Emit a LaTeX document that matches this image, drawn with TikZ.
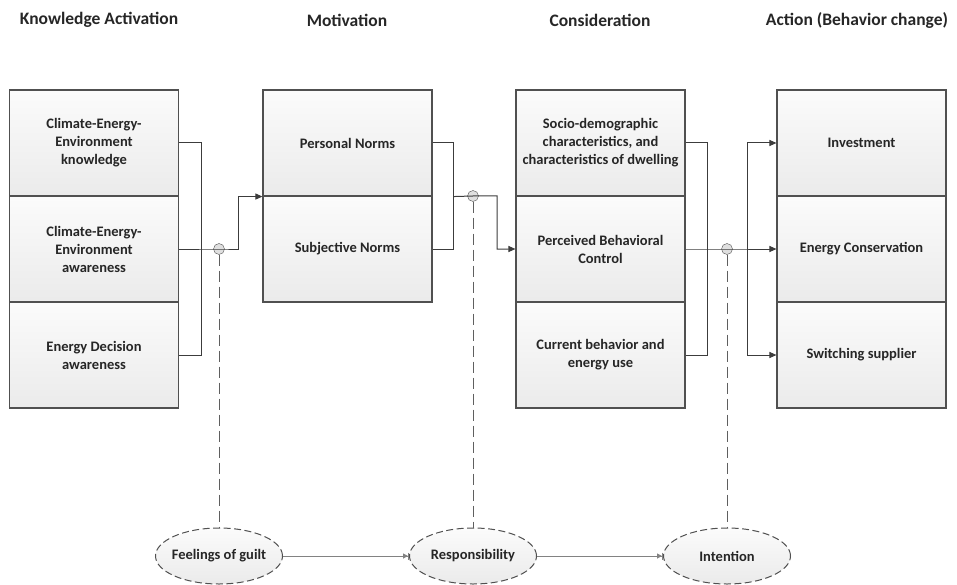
\documentclass[tikz,border=0pt]{standalone}
\usepackage{fontspec}
\setmainfont{Carlito}
\usetikzlibrary{arrows.meta, positioning, calc, shapes.geometric}

\begin{document}
\begin{tikzpicture}[x=1pt,y=-1pt,>={Triangle[length=7pt,width=6pt]},
    title/.style={font=\fontsize{17.5}{20}\selectfont\bfseries, text=black!85},
    box/.style={rectangle, draw=boxline, line width=1.1pt, top color=gray!3, bottom color=gray!16,
        minimum width=169pt, minimum height=106pt, inner sep=2pt, align=center,
        font=\fontsize{14.5}{18}\selectfont\bfseries, text=black!85},
    oval/.style={ellipse, draw=boxline, line width=1pt, dash pattern=on 7pt off 3.5pt,
        top color=gray!3, bottom color=gray!16, minimum width=127pt, minimum height=56pt,
        inner sep=0pt, font=\fontsize{14.5}{18}\selectfont\bfseries, text=black!85},
    knot/.style={circle, draw=boxline, fill=gray!25, minimum size=11pt, inner sep=0pt},
    link/.style={draw=linkgray, line width=1pt},
    hint/.style={draw=hintgray, line width=1pt, dash pattern=on 11pt off 5pt},
    cue/.style={draw=cuegray, line width=1pt, -{Triangle[length=5pt,width=5pt]Bar[width=7pt]}}]

% Colors
\definecolor{boxline}{RGB}{80,80,80}
\definecolor{linkgray}{RGB}{60,60,60}
\definecolor{hintgray}{RGB}{95,95,95}
\definecolor{cuegray}{RGB}{130,130,130}

\useasboundingbox (0,0) rectangle (957,585);

% Titles
\node[title] (tK) at (99,20) {Knowledge Activation};
\node[title] (tM) at (347,20) {Motivation};
\node[title] (tC) at (600,20) {Consideration};
\node[title] (tA) at (857,20) {Action (Behavior change)};

% Knowledge activation
\foreach \i/\y/\txt in {1/143/{Climate-Energy-\\Environment\\knowledge},
                        2/249/{Climate-Energy-\\Environment\\awareness},
                        3/355/{Energy Decision\\awareness}} {
    \node[box] (K\i) at (94,\y) {\txt};
}

% Motivation
\foreach \i/\y/\txt in {1/143/{Personal Norms}, 2/249/{Subjective Norms}} {
    \node[box] (M\i) at (347.5,\y) {\txt};
}

% Consideration
\foreach \i/\y/\txt in {1/143/{Socio-demographic\\characteristics, and\\characteristics of dwelling},
                        2/249/{Perceived Behavioral\\Control},
                        3/355/{Current behavior and\\energy use}} {
    \node[box] (C\i) at (600.5,\y) {\txt};
}

% Action
\foreach \i/\y/\txt in {1/143/{Investment}, 2/249/{Energy Conservation}, 3/355/{Switching supplier}} {
    \node[box] (A\i) at (861.5,\y) {\txt};
}

% Moderators
\node[knot] (g1) at (219,249) {};
\node[knot] (g2) at (473,196) {};
\node[knot] (g3) at (727,249) {};

\node[oval] (guilt) at (219,556) {\makebox[0pt]{Feelings of guilt}};
\node[oval] (resp) at (473,556) {\makebox[0pt]{Responsibility}};
\node[oval] (intent) at (727,556) {\makebox[0pt]{Intention}};

% Knowledge -> Motivation
\draw[link] (K1.east) -- ++(22,0) |- (K3.east);
\draw[link,->] (K2.east) -- (g1.center) -- ++(19,0) |- (M1.south west);

% Motivation -> Consideration
\draw[link] (M1.east) -- ++(21,0) |- (M2.east);
\draw[link,->] (M1.south east) ++(21,0) -- (g2.center) -- ++(24,0) |- (C2.west);

% Consideration -> Action
\draw[link] (C1.east) -- ++(22,0) |- (C3.east);
\draw[link,->] (C2.east) -- (g3.center) -- (A2.west);
\coordinate (split) at (747,249);
\draw[link,->] (split) |- (A1.west);
\draw[link,->] (split) |- (A3.west);

% Dashed links to the ovals
\draw[hint] (g1) -- (guilt);
\draw[hint] (g2) -- (resp);
\draw[hint] (g3) -- (intent);

\draw[cue] (guilt) -- (resp);
\draw[cue] (resp) -- (intent);

\end{tikzpicture}
\end{document}
